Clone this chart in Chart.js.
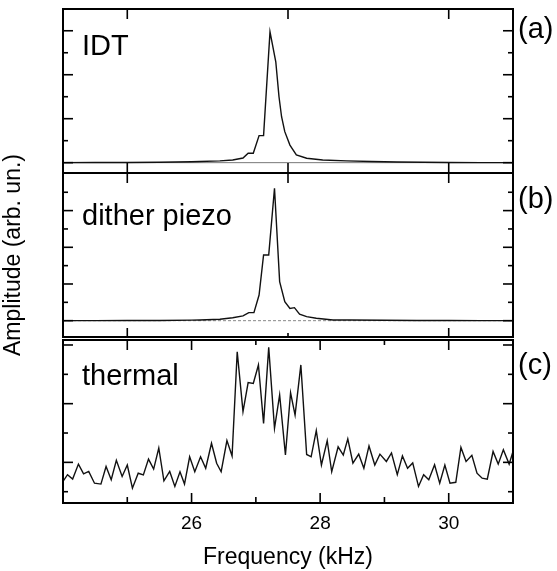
<!DOCTYPE html>
<html>
<head>
<meta charset="utf-8">
<script src="https://cdn.jsdelivr.net/npm/chart.js@4.4.1/dist/chart.umd.min.js"></script>
<style>
  html, body { margin: 0; padding: 0; background: #fff; }
  #wrap { position: relative; width: 557px; height: 571px; }
  #wrap canvas { position: absolute; left: 0; top: 0; }
</style>
</head>
<body>
<div id="wrap">
  <canvas id="panelA" width="557" height="571"></canvas>
  <canvas id="panelB" width="557" height="571"></canvas>
  <canvas id="panelC" width="557" height="571"></canvas>
</div>
<script>
// (a) IDT drive
const idtFreq = [24.0, 24.5, 25.0, 25.5, 26.0, 26.13, 26.44, 26.64, 26.80, 26.88, 26.96, 27.05, 27.12, 27.22, 27.31, 27.36, 27.40, 27.45, 27.53, 27.63, 27.79, 28.04, 28.41, 28.8, 29.2, 29.6, 30.0, 30.5, 31.0];
const idtAmp = [0.0, 0.01, 0.01, 0.02, 0.04, 0.05, 0.08, 0.12, 0.21, 0.43, 0.43, 1.23, 1.23, 5.95, 4.59, 3.00, 2.09, 1.41, 0.80, 0.35, 0.20, 0.12, 0.08, 0.05, 0.03, 0.02, 0.01, 0.0, 0.0];

// (b) dither piezo drive
const piezoFreq = [24.0, 24.5, 25.0, 25.5, 26.0, 26.13, 26.44, 26.64, 26.80, 26.89, 26.97, 27.05, 27.12, 27.20, 27.29, 27.37, 27.45, 27.53, 27.60, 27.68, 27.79, 27.94, 28.20, 28.46, 29.0, 29.5, 30.0, 30.5, 31.0];
const piezoAmp = [0.0, 0.0, 0.01, 0.01, 0.03, 0.04, 0.08, 0.16, 0.26, 0.44, 0.44, 1.40, 3.58, 3.58, 7.22, 2.13, 1.04, 0.67, 0.71, 0.35, 0.22, 0.13, 0.04, 0.04, 0.02, 0.01, 0.01, 0.0, 0.0];

// (c) thermal noise
const thermalFreq = [24.00, 24.07, 24.15, 24.24, 24.32, 24.40, 24.49, 24.59, 24.67, 24.75, 24.83, 24.92, 25.00, 25.08, 25.17, 25.25, 25.33, 25.41, 25.49, 25.57, 25.66, 25.74,
  25.82, 25.89, 25.97, 26.05, 26.14, 26.22, 26.31, 26.39, 26.46, 26.55, 26.63, 26.71, 26.80, 26.88, 26.96, 27.04, 27.12, 27.20, 27.29, 27.37, 27.46, 27.54, 27.61, 27.70,
  27.79, 27.86, 27.94, 28.02, 28.11, 28.18, 28.28, 28.36, 28.43, 28.51, 28.60, 28.68, 28.76, 28.85, 28.93,
  29.03, 29.11, 29.20, 29.28, 29.36, 29.44, 29.53, 29.61, 29.69, 29.78, 29.86, 29.94, 30.02, 30.11, 30.19, 30.27, 30.36, 30.44, 30.52, 30.60, 30.69, 30.77, 30.85, 30.94, 31.00];
const thermalAmp = [0.35, 0.58, 0.43, 0.94, 0.61, 0.69, 0.29, 0.26, 0.86, 0.41, 1.07, 0.52, 0.91, 0.12, 0.63, 0.57, 1.11, 0.77, 1.49, 0.37, 0.69, 0.18,
  0.68, 0.26, 1.19, 0.68, 1.19, 0.80, 1.65, 0.97, 0.68, 1.74, 1.22, 4.77, 2.73, 3.72, 3.69, 4.32, 2.33, 4.92, 2.16, 3.30, 1.25, 3.37, 2.61, 4.32,
  1.27, 1.19, 2.08, 0.91, 1.74, 0.68, 1.53, 1.25, 1.80, 0.97, 1.28, 0.80, 1.56, 0.91, 1.28,
  1.03, 1.32, 0.58, 1.22, 0.80, 0.98, 0.18, 0.58, 0.41, 0.92, 0.29, 0.91, 0.29, 0.32, 1.51, 1.03, 1.24, 0.63, 0.46, 0.43, 1.37, 0.94, 1.43, 0.94, 1.37];

// ticks
const xTicksTop = [25, 27.5, 30];
const xTicksBottom = [25, 26, 27, 28, 29, 30];
const xTickLabels = [26, 28, 30];
const yTicksA = [0, 1, 2, 3, 4, 5, 6];
const yTicksB = [0, 1, 2, 3, 4, 5, 6, 7];
const yTicksC = [0, 1, 2, 3, 4, 5];

const FONT = '"Liberation Sans", Arial, Helvetica, sans-serif';

// frame, inward ticks, zero line and panel texts
const panelFrame = {
  id: "panelFrame",
  beforeDatasetsDraw(chart, args, o) {
    if (!o.zero) return;
    const { ctx, chartArea: a, scales: { y } } = chart;
    const py = y.getPixelForValue(0);
    ctx.save();
    ctx.strokeStyle = o.zero.color;
    ctx.lineWidth = 1;
    ctx.setLineDash(o.zero.dash || []);
    ctx.beginPath();
    ctx.moveTo(a.left, py);
    ctx.lineTo(a.right, py);
    ctx.stroke();
    ctx.restore();
  },
  afterDatasetsDraw(chart, args, o) {
    const { ctx, chartArea: a, scales: { x, y } } = chart;
    const seg = (x1, y1, x2, y2) => {
      ctx.beginPath();
      ctx.moveTo(x1, y1);
      ctx.lineTo(x2, y2);
      ctx.stroke();
    };
    ctx.save();
    ctx.strokeStyle = "#000";
    ctx.lineWidth = 1.6;
    o.xTicks.forEach((v) => {
      const px = x.getPixelForValue(v);
      seg(px, a.top, px, a.top + o.xTop(v));
      seg(px, a.bottom, px, a.bottom - o.xBottom(v));
    });
    o.yTicks.forEach((v) => {
      const py = y.getPixelForValue(v);
      const len = o.yLen(v);
      seg(a.left, py, a.left + len, py);
      seg(a.right, py, a.right - len, py);
    });
    ctx.lineWidth = 2;
    ctx.strokeRect(a.left, a.top, a.width, a.height);

    ctx.fillStyle = "#000";
    ctx.font = `29px ${FONT}`;
    ctx.textAlign = "left";
    ctx.textBaseline = "alphabetic";
    ctx.fillText(o.label, a.left + 19, o.labelY);
    ctx.textBaseline = "middle";
    ctx.fillText(o.tag, a.right + 5, o.tagY);
    ctx.restore();
  },
};

function hiddenAxis(min, max) {
  return { type: "linear", min, max, display: false };
}

function panel(id, freq, amp, yMin, yMax, padding, frame, extraScales) {
  return new Chart(document.getElementById(id), {
    type: "line",
    data: {
      datasets: [{
        data: freq.map((f, i) => ({ x: f, y: amp[i] })),
        borderColor: "#111",
        borderWidth: 1.4,
        pointRadius: 0,
        tension: 0,
        fill: false,
      }],
    },
    options: {
      responsive: false,
      animation: false,
      events: [],
      layout: { padding },
      scales: Object.assign({
        x: hiddenAxis(24, 31),
        y: hiddenAxis(yMin, yMax),
      }, extraScales || {}),
      plugins: {
        legend: { display: false },
        tooltip: { enabled: false },
        panelFrame: frame,
      },
    },
    plugins: [panelFrame],
  });
}

const evenLong = (v) => (v % 2 === 0 ? 10 : 5);
const oddLong = (v) => (v % 2 === 1 ? 10 : 5);

panel("panelA", idtFreq, idtAmp, -0.47, 6.99,
  { top: 9, bottom: 398, left: 63, right: 44 },
  {
    label: "IDT", labelY: 55, tag: "(a)", tagY: 30,
    xTicks: xTicksTop, xTop: () => 10, xBottom: () => 10,
    yTicks: yTicksA, yLen: evenLong,
    zero: { color: "#777" },
  });

panel("panelB", piezoFreq, piezoAmp, -0.89, 8.05,
  { top: 173, bottom: 234, left: 0, right: 44 },
  {
    label: "dither piezo", labelY: 225, tag: "(b)", tagY: 200,
    xTicks: xTicksTop, xTop: () => 10, xBottom: (v) => (v === 27.5 ? 4 : 9),
    yTicks: yTicksB, yLen: evenLong,
    zero: { color: "#888", dash: [3, 2] },
  },
  {
    y: {
      type: "linear", min: -0.89, max: 8.05, display: true,
      afterFit: (s) => { s.width = 63; },
      ticks: { display: false },
      grid: { display: false, drawTicks: false },
      border: { display: false },
      title: {
        display: true, text: "Amplitude (arb. un.)", color: "#000",
        font: { family: FONT, size: 23 }, padding: { top: 0, bottom: 0 },
      },
    },
  });

panel("panelC", thermalFreq, thermalAmp, -0.385, 5.17,
  { top: 340, bottom: 0, left: 63, right: 44 },
  {
    label: "thermal", labelY: 385, tag: "(c)", tagY: 366,
    xTicks: xTicksBottom, xTop: (v) => (v % 2 === 0 || v === 25 ? 10 : 5), xBottom: (v) => (v % 2 === 0 ? 10 : 6),
    yTicks: yTicksC, yLen: oddLong,
  },
  {
    x: {
      type: "linear", min: 24, max: 31, display: true, position: "bottom",
      afterBuildTicks: (s) => { s.ticks = xTickLabels.map((v) => ({ value: v })); },
      afterFit: (s) => { s.height = 68; },
      grid: { display: false, drawTicks: false },
      border: { display: false },
      ticks: { color: "#000", font: { family: FONT, size: 19 }, padding: 9, maxRotation: 0, autoSkip: false },
      title: {
        display: true, text: "Frequency (kHz)", color: "#000",
        font: { family: FONT, size: 23 }, padding: { top: 0, bottom: 0 },
      },
    },
  });
</script>
</body>
</html>
